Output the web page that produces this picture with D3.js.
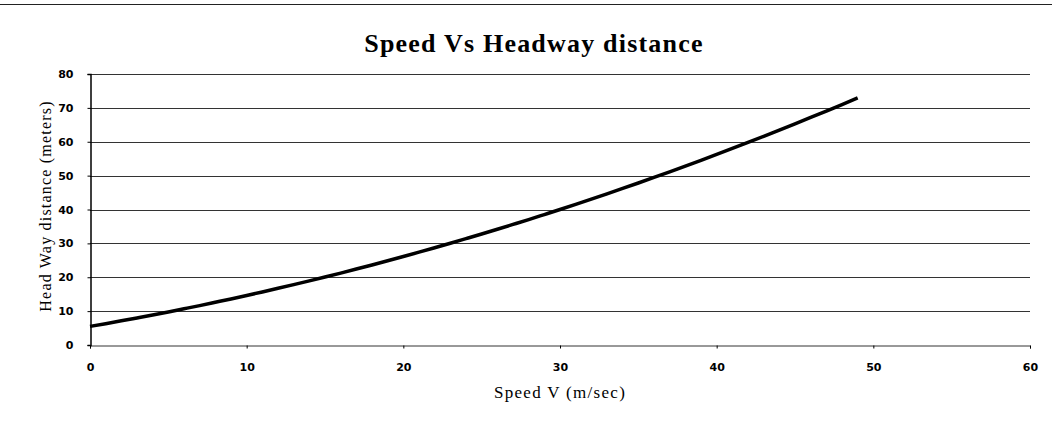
<!DOCTYPE html>
<html>
<head>
<meta charset="utf-8">
<script src="https://cdn.jsdelivr.net/npm/d3@7"></script>
<style>
  body { margin: 0; background: #fff; }
  #chart { width: 1052px; height: 422px; }
  .tick text { font-family: "DejaVu Sans", sans-serif; font-weight: bold; font-size: 11px; fill: #000; }
</style>
</head>
<body>
<div id="chart"></div>
<script>
var speed = [0,1,2,3,4,5,6,7,8,9,10,11,12,13,14,15,16,17,18,19,20,21,22,23,24,25,26,27,28,29,30,31,32,33,34,35,36,37,38,39,40,41,42,43,44,45,46,47,48,49];
var headway = [5.5,6.3,7.13,7.99,8.86,9.76,10.69,11.63,12.61,13.6,14.62,15.66,16.73,17.82,18.93,20.07,21.23,22.42,23.63,24.86,26.12,27.4,28.71,30.03,31.39,32.76,34.16,35.59,37.03,38.51,40.0,41.52,43.06,44.63,46.22,47.83,49.47,51.13,52.82,54.53,56.26,58.02,59.8,61.6,63.43,65.28,67.16,69.06,70.98,72.93];
var xTicks = [0,10,20,30,40,50,60];
var yTicks = [0,10,20,30,40,50,60,70,80];

var w = 1052, h = 422;
var svg = d3.select("#chart").append("svg").attr("width", w).attr("height", h);

var x = d3.scaleLinear().domain([0, 60]).range([90, 1030]);
var y = d3.scaleLinear().domain([0, 80]).range([345, 74]);

// border line at the top of the chart area
svg.append("line")
    .attr("x1", 0).attr("x2", w).attr("y1", 4.5).attr("y2", 4.5)
    .attr("stroke", "#222").attr("stroke-width", 1);

svg.append("text")
    .attr("x", 534).attr("y", 52)
    .attr("text-anchor", "middle")
    .style("font-family", "'Liberation Serif', serif")
    .style("font-weight", "bold")
    .style("font-size", "26px")
    .style("letter-spacing", "1.2px")
    .text("Speed Vs Headway distance");

// gridlines
svg.append("g").selectAll("line")
    .data(yTicks.slice(1))
    .enter().append("line")
      .attr("x1", x(0)).attr("x2", x(60))
      .attr("y1", function(d) { return Math.round(y(d)) + 0.5; })
      .attr("y2", function(d) { return Math.round(y(d)) + 0.5; })
      .attr("stroke", "#333").attr("stroke-width", 1);

var xAxis = svg.append("g")
    .attr("transform", "translate(0," + (Math.round(y(0)) + 0.5) + ")")
    .call(d3.axisBottom(x).tickValues(xTicks).tickSize(3).tickPadding(15).tickFormat(d3.format("d")));
xAxis.select(".domain").attr("stroke", "#333");

var yAxis = svg.append("g")
    .attr("transform", "translate(" + (x(0) + 0.5) + ",0)")
    .call(d3.axisLeft(y).tickValues(yTicks).tickSize(3).tickPadding(14).tickFormat(d3.format("d")));
yAxis.select(".domain").attr("stroke", "#000").attr("stroke-width", 1.5);

svg.append("text")
    .attr("x", 560).attr("y", 398)
    .attr("text-anchor", "middle")
    .style("font-family", "'Liberation Serif', serif")
    .style("font-size", "17px")
    .style("letter-spacing", "1.3px")
    .text("Speed V (m/sec)");

svg.append("text")
    .attr("transform", "translate(51,206) rotate(-90)")
    .attr("text-anchor", "middle")
    .style("font-family", "'Liberation Serif', serif")
    .style("font-size", "16px")
    .style("letter-spacing", "1.2px")
    .text("Head Way distance (meters)");

var line = d3.line()
    .x(function(d, i) { return x(speed[i]); })
    .y(function(d) { return y(d); })
    .curve(d3.curveMonotoneX);

svg.append("path")
    .datum(headway)
    .attr("fill", "none")
    .attr("stroke", "#000")
    .attr("stroke-width", 3.5)
    .attr("d", line);
</script>
</body>
</html>
